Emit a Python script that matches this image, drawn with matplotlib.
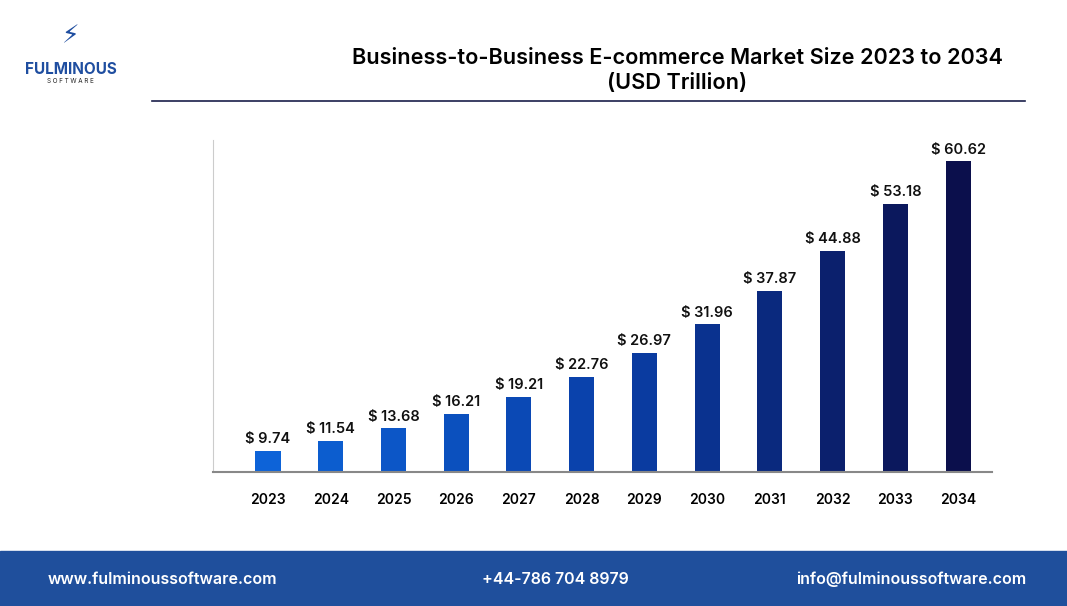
import matplotlib
matplotlib.use("Agg")
import matplotlib.pyplot as plt
import numpy as np
from matplotlib.colors import LinearSegmentedColormap

years = ["2023","2024","2025","2026","2027","2028","2029","2030","2031","2032","2033","2034"]
values = [9.74,11.54,13.68,16.21,19.21,22.76,26.97,31.96,37.87,44.88,53.18,60.62]

plt.rcParams["font.family"] = "Inter"
fig = plt.figure(figsize=(10.67,6.06), dpi=100)
ax = fig.add_axes([0.1996,0.2211,0.7301,0.5479])
cmap = LinearSegmentedColormap.from_list("b", ["#0d63d8","#0a3fa8","#0b0f4c"])
x = np.arange(len(years))
cols = [cmap(i/(len(years)-1)) for i in x]
base = 6.0
ax.bar(x, values, width=0.4, color=cols)
for xi, v in zip(x, values):
    ax.text(xi, v+0.8, f"$ {v:.2f}", ha="center", va="bottom", fontsize=10.5, fontweight="semibold", color="#111")
ax.set_xlim(-0.877, 11.54)
ax.set_ylim(base, 64.4)
ax.set_xticks(x)
ax.set_xticklabels(years, fontsize=10, fontweight="semibold")
ax.tick_params(axis="x", length=0, pad=15)
ax.set_yticks([])
for s in ["top","right"]:
    ax.spines[s].set_visible(False)
ax.spines["left"].set_color("#cccccc")
ax.spines["bottom"].set_color("#888888")
ax.spines["bottom"].set_linewidth(1.5)

fig.text(0.635, 0.905, "Business-to-Business E-commerce Market Size 2023 to 2034", ha="center", va="center", fontsize=15.6, fontweight="semibold")
fig.text(0.635, 0.863, "(USD Trillion)", ha="center", va="center", fontsize=15.6, fontweight="semibold")
fig.add_artist(plt.Line2D([0.1425,0.961],[0.834,0.834], color="#1a1f4a", lw=1.2))

# logo text
fig.text(0.066, 0.885, "FULMINOUS", ha="center", va="center", fontsize=11, color="#1f4ea0", fontweight="bold")
fig.text(0.066, 0.866, "S O F T W A R E", ha="center", va="center", fontsize=4.5, color="#222")
fig.text(0.066, 0.94, "⚡", ha="center", va="center", fontsize=18, color="#1f4ea0", family="DejaVu Sans")

# footer
fig.add_artist(plt.Rectangle((0,0),1,0.091, transform=fig.transFigure, color="#1f4f9c"))
fig.text(0.045, 0.044, "www.fulminoussoftware.com", va="center", fontsize=11.5, color="white", fontweight="semibold")
fig.text(0.452, 0.044, "+44-786 704 8979", va="center", fontsize=11.5, color="white", fontweight="semibold")
fig.text(0.746, 0.044, "info@fulminoussoftware.com", va="center", fontsize=11.5, color="white", fontweight="semibold")
fig.savefig("out.png", dpi=100)
